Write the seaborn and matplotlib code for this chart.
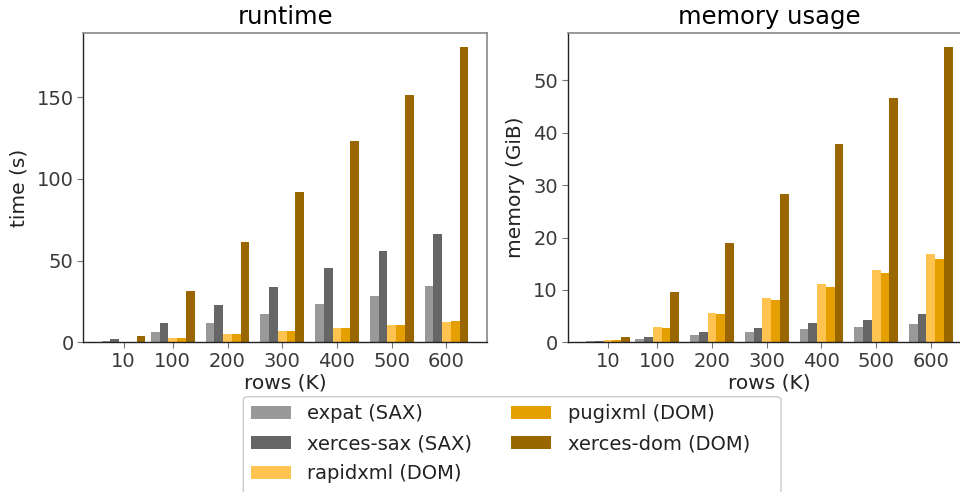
import matplotlib
matplotlib.use("Agg")
import matplotlib.pyplot as plt
from matplotlib.patches import FancyBboxPatch
import seaborn as sns
import pandas as pd

rows = [10, 100, 200, 300, 400, 500, 600]
libs = ["expat (SAX)", "xerces-sax (SAX)", "rapidxml (DOM)", "pugixml (DOM)", "xerces-dom (DOM)"]
colors = ["#999999", "#666666", "#FFC44F", "#E69F00", "#996600"]

# runtime (s)
rt_expat = [1.0, 6.1, 11.6, 17.2, 23.3, 28.4, 34.5]
rt_xsax = [2.1, 11.6, 22.6, 34.0, 45.6, 56.1, 66.5]
rt_rapid = [0.4, 2.9, 4.8, 6.8, 8.6, 10.4, 12.3]
rt_pugi = [0.4, 2.9, 4.8, 6.8, 8.6, 10.4, 12.9]
rt_xdom = [3.9, 31.2, 61.2, 91.7, 122.9, 151.0, 180.4]

# memory (GiB)
mem_expat = [0.2, 0.7, 1.3, 1.9, 2.45, 2.85, 3.4]
mem_xsax = [0.3, 1.0, 1.9, 2.65, 3.6, 4.2, 5.35]
mem_rapid = [0.4, 2.85, 5.55, 8.45, 11.15, 13.9, 16.8]
mem_pugi = [0.4, 2.65, 5.35, 8.07, 10.6, 13.3, 16.0]
mem_xdom = [1.05, 9.55, 19.0, 28.4, 37.8, 46.6, 56.3]


def make_df(series, col):
    recs = []
    for lib, vals in zip(libs, series):
        for r, v in zip(rows, vals):
            recs.append({"rows": r, "lib": lib, col: v})
    return pd.DataFrame(recs)


df_rt = make_df([rt_expat, rt_xsax, rt_rapid, rt_pugi, rt_xdom], "time")
df_mem = make_df([mem_expat, mem_xsax, mem_rapid, mem_pugi, mem_xdom], "memory")

sns.set_theme(style="ticks")
plt.rcParams["font.family"] = ["DejaVu Sans"]

fig = plt.figure(figsize=(9.6, 4.92), dpi=100)
ax1 = fig.add_axes([83.3 / 960, 149.7 / 492, 403.4 / 960, 309.6 / 492])
ax2 = fig.add_axes([567.7 / 960, 149.7 / 492, 403.4 / 960, 309.6 / 492])

tick_color = "#3a3a3a"
for ax, df, col, ylabel, title in [
    (ax1, df_rt, "time", "time (s)", "runtime"),
    (ax2, df_mem, "memory", "memory (GiB)", "memory usage"),
]:
    sns.barplot(data=df, x="rows", y=col, hue="lib", hue_order=libs,
                palette=colors, saturation=1, native_scale=True, width=80 / 90,
                errorbar=None, linewidth=0, edgecolor="none", ax=ax,
                legend=(ax is ax1))
    ax.set_xticks(rows)
    ax.set_xticklabels([str(r) for r in rows])
    ax.set_xlim(-63.5, 673.5)
    ymax = max(df[col]) * 1.05
    ax.set_ylim(0, ymax)
    ax.set_xlabel("rows (K)", fontsize=14.5, color="#222222", labelpad=2)
    ax.set_ylabel(ylabel, fontsize=14.5, color="#222222", labelpad=6)
    ax.set_title(title, fontsize=17.5, color="black", pad=6)
    ax.tick_params(axis="both", labelsize=14, colors=tick_color, length=4,
                   width=0.8, pad=3)
    ax.tick_params(axis="both", colors="#777777", labelcolor=tick_color)
    for s in ["left", "bottom"]:
        ax.spines[s].set_color("#222222")
        ax.spines[s].set_linewidth(1.0)
    for s in ["top", "right"]:
        ax.spines[s].set_visible(True)
        ax.spines[s].set_color("#888888")
        ax.spines[s].set_linewidth(1.2)

ax1.set_yticks([0, 50, 100, 150])
ax2.set_yticks([0, 10, 20, 30, 40, 50])

handles, labels = ax1.get_legend_handles_labels()
ax1.get_legend().remove()
leg_left = 243.3 / 960
leg_top = 1 - 396.7 / 492
fig.legend(handles, labels, loc="upper left", ncol=2,
           bbox_to_anchor=(leg_left, leg_top),
           borderaxespad=0, fontsize=14, frameon=False,
           labelcolor="#222222", handlelength=2.05, handleheight=0.7,
           handletextpad=0.85, columnspacing=2.0, labelspacing=0.56)

frame = FancyBboxPatch((leg_left, -0.1), (781 - 243.3) / 960, leg_top + 0.1,
                       boxstyle="round,pad=0,rounding_size=0.006",
                       transform=fig.transFigure, facecolor="white",
                       edgecolor="#cccccc", linewidth=1.0, zorder=-1)
fig.patches.append(frame)

fig.savefig("out.png", dpi=100)
